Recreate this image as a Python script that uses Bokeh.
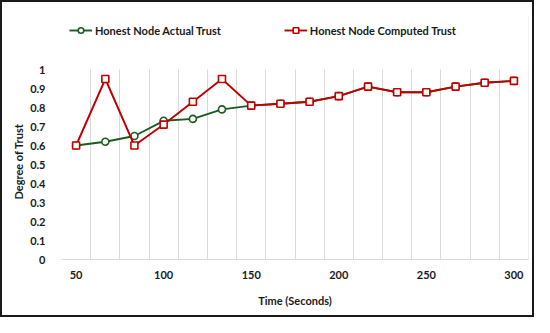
from bokeh.plotting import figure
from bokeh.models import FixedTicker, Legend, LegendItem, ColumnDataSource, BoxAnnotation, Title
from bokeh.embed import file_html
from bokeh.resources import INLINE

time_s = [50, 66.7, 83.3, 100, 116.7, 133.3, 150, 166.7, 183.3, 200, 216.7, 233.3, 250, 266.7, 283.3, 300]
actual_trust = [0.60, 0.62, 0.65, 0.73, 0.74, 0.79, 0.81, 0.82, 0.83, 0.86, 0.91, 0.88, 0.88, 0.91, 0.93, 0.94]
computed_trust = [0.60, 0.95, 0.60, 0.71, 0.83, 0.95, 0.81, 0.82, 0.83, 0.86, 0.91, 0.88, 0.88, 0.91, 0.93, 0.94]
x_ticks = [50, 100, 150, 200, 250, 300]
y_ticks = [0, 0.1, 0.2, 0.3, 0.4, 0.5, 0.6, 0.7, 0.8, 0.9, 1]
series_names = ["Honest Node Actual Trust", "Honest Node Computed Trust"]

GREEN = "#1d5a1d"
RED = "#c00000"
FONT = "Lato"
TXT = "#1a1a1a"

step = (time_s[-1] - time_s[0]) / (len(time_s) - 1)
x0 = time_s[0] - step / 2
x1 = time_s[-1] + step / 2

# frame: 14px top border, 60px bottom border; values 0..1 use 190px, the rest holds the legend
FIG_H, TOP, BOTTOM, DATA_PX = 317, 14, 60, 190
y_top = (FIG_H - TOP - BOTTOM) / DATA_PX

p = figure(width=534, height=FIG_H, output_backend="svg", toolbar_location=None,
           x_range=(x0, x1), y_range=(0, y_top),
           min_border_left=59, min_border_right=8, min_border_top=TOP, min_border_bottom=BOTTOM)
p.outline_line_color = None
p.background_fill_color = "white"
p.border_fill_color = "white"
p.styles = {"border": "2px solid #1a1a1a", "box-sizing": "border-box"}

src_a = ColumnDataSource(dict(x=time_s, y=actual_trust))
src_c = ColumnDataSource(dict(x=time_s, y=computed_trust))

la = p.line("x", "y", source=src_a, line_color=GREEN, line_width=1.9)
ma = p.scatter("x", "y", source=src_a, marker="circle", size=7, fill_color="white",
               line_color=GREEN, line_width=1.6)
lc = p.line("x", "y", source=src_c, line_color=RED, line_width=1.9)
mc = p.scatter("x", "y", source=src_c, marker="square", size=7, fill_color="white",
               line_color=RED, line_width=1.6)

grid_ticks = [x0 + i * step for i in range(len(time_s) + 1)]
p.xgrid.ticker = FixedTicker(ticks=grid_ticks)
p.xgrid.grid_line_color = "#d9d9d9"
p.xgrid.grid_line_width = 1
p.ygrid.grid_line_color = None

# hide grid lines above the value 1 (legend area)
p.add_layout(BoxAnnotation(bottom=1, fill_color="white", fill_alpha=1, line_color=None,
                           level="glyph"))

p.xaxis.ticker = FixedTicker(ticks=x_ticks)
p.yaxis.ticker = FixedTicker(ticks=y_ticks)
p.yaxis.bounds = (0, 1)
p.yaxis.major_label_overrides = {0: "0", 1: "1"}
for ax in (p.xaxis[0], p.yaxis[0]):
    ax.major_tick_line_color = None
    ax.minor_tick_line_color = None
    ax.major_label_text_font = FONT
    ax.major_label_text_font_style = "bold"
    ax.major_label_text_font_size = "11px"
    ax.major_label_text_color = TXT
    ax.axis_label_text_font = FONT
    ax.axis_label_text_font_style = "bold"
    ax.axis_label_text_font_size = "11px"
    ax.axis_label_text_color = TXT
p.xaxis.axis_line_color = "#d9d9d9"
p.yaxis.axis_line_color = None
p.xaxis.axis_label = "Time (Seconds)"
p.xaxis.major_label_standoff = 5
p.xaxis.axis_label_standoff = 12
p.yaxis.major_label_standoff = 10

ytitle = Title(text="Degree of Trust", align="left", offset=60, standoff=6,
               text_font=FONT, text_font_style="bold", text_font_size="11px",
               text_color=TXT)
p.add_layout(ytitle, "left")

legend = Legend(items=[LegendItem(label=series_names[0], renderers=[la, ma]),
                       LegendItem(label=series_names[1], renderers=[lc, mc])],
                orientation="horizontal", location=(8, 222),
                glyph_width=23, glyph_height=14, label_height=14, label_standoff=3, spacing=63,
                padding=0, margin=0, border_line_color=None, background_fill_alpha=0,
                label_text_font=FONT, label_text_font_style="bold",
                label_text_font_size="11px", label_text_color=TXT)
p.add_layout(legend, "center")

open("out.html", "w").write(file_html(p, INLINE))
